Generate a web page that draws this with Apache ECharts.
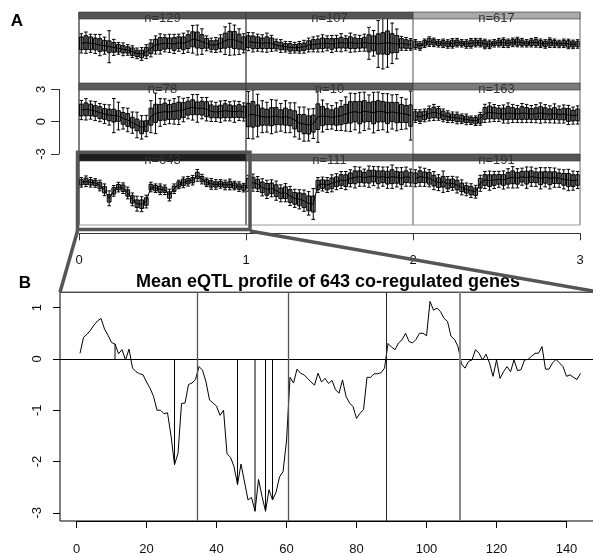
<!DOCTYPE html>
<html><head><meta charset="utf-8">
<script src="https://cdn.jsdelivr.net/npm/echarts@6/dist/echarts.min.js"></script>
<style>html,body{margin:0;padding:0;background:#fff}#c{width:593px;height:557px}</style>
</head><body><div id="c"></div>
<script>
// ---------- DATA ----------
// Panel B: mean eQTL profile (marker index 1..144)
const meanProfile = [0.11,0.42,0.48,0.56,0.66,0.74,0.79,0.58,0.46,0.32,0.29,0.1,0.18,-0.02,0.19,-0.18,-0.25,-0.29,-0.31,-0.45,
-0.57,-0.73,-1.0,-1.0,-1.07,-1.05,-1.5,-2.06,-1.84,-0.87,-0.86,-0.5,-0.47,-0.4,-0.15,-0.22,-0.45,-0.8,-0.86,-0.92,
-1.1,-1.0,-1.85,-1.92,-2.1,-2.45,-2.05,-2.4,-2.75,-2.7,-2.97,-2.35,-2.68,-2.97,-2.55,-2.75,-2.6,-2.3,-2.2,-1.6,
-0.36,-0.47,-0.2,-0.28,-0.31,-0.38,-0.45,-0.51,-0.28,-0.45,-0.38,-0.48,-0.42,-0.6,-0.67,-0.41,-0.73,-0.86,-0.93,-1.16,
-1.06,-0.99,-0.36,-0.36,-0.29,-0.29,-0.27,-0.18,0.3,0.23,0.18,0.31,0.37,0.5,0.34,0.31,0.38,0.5,0.5,0.45,
1.12,0.95,0.99,0.92,0.79,0.73,0.44,0.38,0.24,-0.1,-0.18,-0.05,-0.02,0.18,0.11,-0.02,0.09,-0.08,-0.34,-0.02,
-0.38,-0.25,-0.15,-0.25,-0.02,-0.23,-0.21,-0.02,-0.01,0.05,0.11,0.11,0.24,-0.2,-0.2,-0.08,-0.01,-0.08,-0.15,-0.34,
-0.31,-0.36,-0.4,-0.28];
const sigMarkers = [11, 28, 46, 51, 54, 56];
const chrBounds = [34.5, 60.5, 88.5, 109.5];
const bXTicks = [0, 20, 40, 60, 80, 100, 120, 140];
const bYTicks = [-3, -2, -1, 0, 1];
const titleB = 'Mean eQTL profile of 643 co-regulated genes';

// Panel A: cluster profiles (36 positions per panel): mean, box half-height, whisker half-length
const panelLabels = ['n=129','n=107','n=617','n=78','n=10','n=163','n=643','n=111','n=191'];
const mean_n129 = [0.72,0.78,0.72,0.66,0.56,0.5,0.4,0.34,0.25,0.16,0.1,-0.06,-0.22,-0.28,-0.06,0.25,0.56,0.66,0.72,0.72,0.66,0.78,0.72,0.88,1.1,1.03,0.88,0.72,0.56,0.56,0.72,0.97,1.1,1.03,0.88,0.72];
const box_n129  = [0.6,0.65,0.6,0.55,0.6,0.5,0.55,0.45,0.35,0.35,0.3,0.35,0.3,0.35,0.4,0.5,0.55,0.6,0.55,0.5,0.6,0.55,0.6,0.65,0.7,0.75,0.65,0.45,0.4,0.45,0.5,0.7,0.75,0.8,0.7,0.6];
const wh_n129   = [0.9,1.0,0.85,0.9,1.0,0.8,1.5,0.75,0.55,0.6,0.5,0.55,0.5,0.6,0.65,0.8,0.85,0.95,0.8,0.85,0.9,0.8,0.95,1.0,1.3,1.4,1.2,0.7,0.65,0.7,0.8,1.3,1.5,1.4,1.2,0.9];
const mean_n107 = [0.88,0.81,0.78,0.72,0.78,0.72,0.56,0.47,0.4,0.34,0.31,0.34,0.4,0.56,0.62,0.66,0.72,0.72,0.66,0.72,0.78,0.72,0.78,0.72,0.72,0.78,0.72,0.72,0.66,0.72,0.78,0.72,0.66,0.72,0.66,0.62];
const box_n107  = [0.55,0.6,0.55,0.5,0.55,0.5,0.35,0.35,0.3,0.35,0.3,0.35,0.35,0.4,0.45,0.45,0.5,0.45,0.5,0.45,0.5,0.45,0.55,0.5,0.45,0.5,0.8,0.7,0.95,1.0,1.1,0.9,0.8,0.45,0.4,0.4];
const wh_n107   = [0.85,0.9,0.8,0.8,0.9,0.75,0.55,0.6,0.5,0.55,0.5,0.55,0.6,0.65,0.7,0.75,0.8,0.7,0.8,0.75,0.85,0.7,0.9,0.8,0.75,0.8,1.5,1.2,2.2,2.4,2.3,1.9,1.4,0.65,0.6,0.55];
const mean_n617 = [0.62,0.47,0.72,0.88,0.81,0.72,0.72,0.66,0.72,0.78,0.72,0.66,0.72,0.78,0.78,0.66,0.62,0.72,0.78,0.78,0.72,0.81,0.84,0.78,0.72,0.78,0.81,0.72,0.66,0.78,0.72,0.66,0.72,0.66,0.62,0.66];
const box_n617  = [0.3,0.25,0.25,0.3,0.25,0.2,0.25,0.25,0.3,0.25,0.2,0.25,0.3,0.25,0.25,0.3,0.25,0.2,0.25,0.3,0.25,0.25,0.3,0.25,0.2,0.25,0.3,0.25,0.25,0.3,0.25,0.2,0.25,0.3,0.25,0.25];
const wh_n617   = [0.45,0.4,0.4,0.45,0.4,0.35,0.4,0.4,0.45,0.4,0.35,0.4,0.45,0.4,0.4,0.45,0.4,0.35,0.4,0.45,0.4,0.4,0.45,0.4,0.35,0.4,0.45,0.4,0.4,0.45,0.4,0.35,0.4,0.45,0.4,0.4];
const mean_n78  = [1.12,1.19,1.12,1.03,0.88,0.75,0.66,0.6,0.56,0.34,0.19,-0.06,-0.28,-0.5,-0.38,0.5,0.81,0.9,0.97,0.94,1.0,1.06,1.12,1.3,1.38,1.28,1.3,1.2,1.0,0.94,0.97,1.06,1.0,0.97,1.03,0.94];
const box_n78   = [0.55,0.6,0.55,0.5,0.55,0.5,0.55,0.6,0.5,0.55,0.6,0.5,0.55,0.6,0.5,0.8,0.85,0.75,0.8,0.7,0.75,0.8,0.7,0.65,0.7,0.6,0.65,0.7,0.6,0.55,0.6,0.65,0.6,0.55,0.6,0.55];
const wh_n78    = [0.9,1.0,0.85,0.9,0.85,0.9,0.95,1.6,1.3,1.0,1.1,1.0,1.2,1.1,1.0,1.5,1.9,1.3,1.2,1.1,1.2,1.3,1.1,1.0,1.2,1.3,1.0,1.1,0.95,0.9,1.0,0.95,0.9,1.0,0.9,0.85];
const mean_n10  = [0.66,0.72,0.6,0.5,0.45,0.5,0.55,0.44,0.5,0.4,0.2,-0.1,-0.2,-0.28,-0.15,0.5,0.56,0.5,0.44,0.5,0.6,0.75,0.9,0.97,0.88,1.0,0.94,0.88,1.0,0.97,0.85,0.94,0.88,0.8,0.75,0.6];
const box_n10   = [1.1,1.2,1.0,0.8,0.75,0.85,0.8,0.7,0.8,0.75,0.85,0.8,0.9,0.85,0.8,1.2,0.9,0.75,0.7,0.8,0.85,0.9,1.0,0.95,1.05,1.0,0.9,1.05,1.0,0.95,1.0,0.9,0.95,0.85,0.8,1.0];
const wh_n10    = [2.2,2.3,2.0,1.5,1.4,1.6,1.5,1.3,1.5,1.4,1.6,1.5,1.6,1.5,1.4,2.4,1.5,1.2,1.1,1.3,1.4,1.6,1.8,1.7,1.9,1.8,1.6,1.9,1.8,1.7,1.8,1.6,1.7,1.5,1.4,2.3];
const mean_n163 = [0.56,0.5,0.62,0.8,0.9,0.81,0.62,0.5,0.44,0.38,0.3,0.25,0.16,0.12,0.3,0.81,0.9,0.84,0.8,0.75,0.84,0.8,0.75,0.84,0.8,0.75,0.78,0.84,0.78,0.72,0.8,0.7,0.75,0.66,0.6,0.66];
const box_n163  = [0.4,0.45,0.4,0.45,0.5,0.45,0.4,0.35,0.3,0.35,0.3,0.3,0.25,0.3,0.4,0.55,0.6,0.55,0.5,0.55,0.6,0.55,0.5,0.6,0.55,0.5,0.55,0.6,0.55,0.5,0.55,0.5,0.55,0.6,0.5,0.55];
const wh_n163   = [0.6,0.65,0.6,0.7,0.75,0.65,0.6,0.55,0.5,0.55,0.45,0.5,0.4,0.45,0.6,0.85,0.9,0.8,0.75,0.85,0.95,0.85,0.8,0.9,0.85,0.8,0.85,0.95,0.85,0.8,0.9,0.8,0.85,0.9,0.8,0.85];
const mean_n643 = [1.0,1.1,1.0,0.94,0.7,0.3,-0.5,0.2,0.55,0.45,0.0,-0.6,-1.0,-1.05,-0.8,0.56,0.45,0.35,0.3,-0.19,0.4,0.8,1.0,1.1,1.2,1.65,1.3,1.0,0.85,0.8,0.85,0.75,0.8,0.7,0.6,0.5];
const box_n643  = [0.25,0.3,0.25,0.25,0.3,0.3,0.35,0.3,0.25,0.3,0.3,0.35,0.35,0.4,0.35,0.25,0.25,0.3,0.25,0.3,0.25,0.25,0.3,0.25,0.25,0.3,0.25,0.25,0.3,0.25,0.25,0.25,0.3,0.25,0.25,0.25];
const wh_n643   = [0.45,0.5,0.45,0.4,0.5,0.55,0.7,0.5,0.45,0.5,0.55,0.6,0.7,0.7,0.6,0.45,0.4,0.5,0.45,0.55,0.45,0.4,0.5,0.45,0.45,0.55,0.45,0.4,0.5,0.45,0.4,0.45,0.5,0.4,0.45,0.4];
const mean_n111 = [0.91,0.97,0.84,0.53,0.34,0.44,0.22,-0.03,0.03,-0.28,-0.5,-0.59,-0.72,-0.97,-1.03,0.75,0.84,0.75,0.91,1.06,1.22,1.16,1.38,1.47,1.53,1.44,1.53,1.59,1.47,1.53,1.44,1.53,1.47,1.38,1.53,1.44];
const box_n111  = [0.45,0.5,0.45,0.5,0.55,0.5,0.55,0.5,0.55,0.6,0.55,0.6,0.65,0.7,0.75,0.45,0.4,0.45,0.5,0.45,0.5,0.55,0.5,0.6,0.55,0.5,0.6,0.55,0.6,0.55,0.6,0.65,0.55,0.6,0.55,0.5];
const wh_n111   = [0.75,0.8,0.7,0.8,0.85,0.8,0.9,0.8,0.85,0.9,0.85,0.9,1.0,1.1,1.45,0.7,0.65,0.7,0.8,0.75,0.8,0.85,0.8,1.0,0.9,0.8,1.0,0.9,1.0,0.9,1.0,1.1,0.9,1.0,0.9,0.8];
const mean_n191 = [1.38,1.53,1.47,1.38,1.16,0.97,1.06,0.84,0.91,0.75,0.53,0.34,0.22,0.12,0.91,1.22,1.16,1.22,1.28,1.22,1.38,1.47,1.38,1.53,1.44,1.53,1.47,1.38,1.47,1.38,1.44,1.38,1.28,1.22,1.16,1.22];
const box_n191  = [0.5,0.55,0.5,0.55,0.5,0.45,0.5,0.45,0.4,0.45,0.4,0.35,0.4,0.35,0.45,0.5,0.55,0.5,0.45,0.5,0.55,0.6,0.55,0.5,0.6,0.55,0.5,0.6,0.55,0.6,0.55,0.5,0.55,0.6,0.55,0.5];
const wh_n191   = [0.8,0.9,0.85,0.8,0.85,0.75,1.0,0.7,0.65,0.75,0.7,0.6,0.65,0.6,0.75,0.8,0.9,0.8,0.75,0.85,0.9,1.0,0.9,0.8,1.0,0.9,0.85,1.0,0.9,1.0,0.9,0.85,0.9,1.0,0.9,0.8];
const aXTicks = [0, 1, 2, 3];
const aYTicks = [-3, 0, 3];

const panelMeans = [mean_n129, mean_n107, mean_n617, mean_n78, mean_n10, mean_n163, mean_n643, mean_n111, mean_n191];
const panelBoxes = [box_n129, box_n107, box_n617, box_n78, box_n10, box_n163, box_n643, box_n111, box_n191];
const panelWhisk = [wh_n129, wh_n107, wh_n617, wh_n78, wh_n10, wh_n163, wh_n643, wh_n111, wh_n191];

// ---------- STYLE / LAYOUT ----------
const FONT = 'Liberation Sans, Arial, sans-serif';
const stripColors = ['#555','#555','#aaa','#5a5a5a','#5a5a5a','#7a7a7a','#1e1e1e','#666','#555'];
const boundStyle = [{color:'#555',width:1.3},{color:'#555',width:1.3},{color:'#222',width:1},{color:'#888',width:2}];
const PX0 = 79, PW = 167, PY0 = 12, RH = 71, SH = 7, PH = 64;

const chart = echarts.init(document.getElementById('c'));
const grids = [], xAxes = [], yAxes = [], series = [];

function renderBox(params, api) {
  const k = api.value(0), m = api.value(1), b = api.value(2), w = api.value(3);
  const t = api.coord([k, m + w]), d = api.coord([k, m - w]);
  const bt = api.coord([k, m + b]), bb = api.coord([k, m - b]);
  const x = t[0], hw = 1.9, cap = 1.8;
  const ls = {stroke:'#000', lineWidth:1};
  return {type:'group', children:[
    {type:'rect', shape:{x:x-hw, y:bt[1], width:2*hw, height:bb[1]-bt[1]}, style:{fill:'#8a8a8a', stroke:'#000', lineWidth:1}},
    {type:'line', shape:{x1:x, y1:t[1], x2:x, y2:d[1]}, style:ls},
    {type:'line', shape:{x1:x-cap, y1:t[1], x2:x+cap, y2:t[1]}, style:ls},
    {type:'line', shape:{x1:x-cap, y1:d[1], x2:x+cap, y2:d[1]}, style:ls}
  ]};
}

// A panels
for (let p = 0; p < 9; p++) {
  const r = Math.floor(p / 3), c = p % 3;
  grids.push({left: PX0 + c*PW, top: PY0 + r*RH + SH, width: PW, height: PH, outerBoundsMode:'none'});
  xAxes.push({gridIndex: p, type:'value', min:0, max:36, show:false});
  yAxes.push({gridIndex: p, type:'value', min:-3, max:3, show:false});
  const data = panelMeans[p].map((m, k) => [k + 0.5, m, panelBoxes[p][k], panelWhisk[p][k]]);
  series.push({type:'custom', xAxisIndex:p, yAxisIndex:p, renderItem: renderBox, data: data, clip:false, silent:true});
  series.push({type:'line', xAxisIndex:p, yAxisIndex:p, data: panelMeans[p].map((m, k) => [k + 0.5, m]),
    symbol:'none', lineStyle:{color:'#000', width:1}, silent:true, z:3});
}
// A x axis (index 9)
grids.push({left: PX0, right: 593 - (PX0 + 3*PW), top: 150, bottom: 557 - 233.3, outerBoundsMode:'none'});
xAxes.push({gridIndex:9, type:'value', min:aXTicks[0], max:aXTicks[aXTicks.length-1], interval:1,
  axisLine:{show:true, lineStyle:{color:'#333', width:1}}, axisTick:{show:true, length:7, lineStyle:{color:'#333'}},
  splitLine:{show:false}, axisLabel:{margin:21, color:'#111', fontSize:13, fontFamily:FONT}});
yAxes.push({gridIndex:9, type:'value', show:false});
// A y axis (index 10)
grids.push({left: 59, width: 100, top: 89.3, bottom: 557 - 154, outerBoundsMode:'none'});
xAxes.push({gridIndex:10, type:'value', show:false});
yAxes.push({gridIndex:10, type:'value', min:aYTicks[0], max:aYTicks[aYTicks.length-1], interval:3,
  axisLine:{show:true, lineStyle:{color:'#333', width:1}}, axisTick:{show:true, length:8, lineStyle:{color:'#333'}},
  splitLine:{show:false}, axisLabel:{rotate:90, margin:11, color:'#111', fontSize:13, fontFamily:FONT}});

// B data grid (index 11)
grids.push({left:60, width:540.5, top:292.2, bottom:36, show:true, borderColor:'#000', borderWidth:1,
  backgroundColor:'transparent', outerBoundsMode:'none'});
xAxes.push({gridIndex:11, type:'value', min:-4.72, max:149.71, show:false});
yAxes.push({gridIndex:11, type:'value', min:-3.16, max:1.30, show:false});
// B x ticks (index 12)
grids.push({left:76.5, width:490, top:292.2, bottom:36, outerBoundsMode:'none'});
xAxes.push({gridIndex:12, type:'value', min:bXTicks[0], max:bXTicks[bXTicks.length-1], interval:20,
  axisLine:{show:true, lineStyle:{color:'#000'}}, axisTick:{show:true, length:7, lineStyle:{color:'#000'}},
  splitLine:{show:false}, axisLabel:{margin:22, color:'#111', fontSize:13, fontFamily:FONT}});
yAxes.push({gridIndex:12, type:'value', show:false});
// B y ticks (index 13)
grids.push({left:60, width:100, top:307.6, bottom:557-512.8, outerBoundsMode:'none'});
xAxes.push({gridIndex:13, type:'value', show:false});
yAxes.push({gridIndex:13, type:'value', min:bYTicks[0], max:bYTicks[bYTicks.length-1], interval:1,
  axisLine:{show:false}, axisTick:{show:true, length:7, lineStyle:{color:'#000'}},
  splitLine:{show:false}, axisLabel:{rotate:90, margin:16, color:'#111', fontSize:13, fontFamily:FONT}});

// B series
series.push({type:'line', xAxisIndex:11, yAxisIndex:11, data: meanProfile.map((v,i)=>[i+1, v]),
  showSymbol:false, symbol:'none', lineStyle:{color:'#000', width:1}, silent:true, z:3,
  markLine:{symbol:['none','none'], silent:true, label:{show:false},
    data:[{yAxis:0, lineStyle:{color:'#000', width:1, type:'solid'}}].concat(
      chrBounds.map((b,i)=>({xAxis:b, lineStyle:{color:boundStyle[i].color, width:boundStyle[i].width, type:'solid'}})))}});
series.push({type:'bar', xAxisIndex:11, yAxisIndex:11, barWidth:1, silent:true,
  data: sigMarkers.map(i=>[i, meanProfile[i-1]]), itemStyle:{color:'#000'}});

// Graphics: strips, labels, frame, highlight, connectors, titles
const gfx = [];
for (let p = 0; p < 9; p++) {
  const r = Math.floor(p / 3), c = p % 3;
  const x = PX0 + c*PW, y = PY0 + r*RH;
  gfx.push({type:'rect', shape:{x:x, y:y, width:PW, height:SH}, style:{fill:stripColors[p], stroke:'#333', lineWidth:0.6}, z:10});
  gfx.push({type:'text', x:x + PW/2, y:y + 6.5, style:{text:panelLabels[p], fill:'#333', font:'13px ' + FONT, align:'center', verticalAlign:'middle'}, z:11});
}
const vlines = [[PX0,'#000'],[PX0+PW,'#000'],[PX0+2*PW,'#555'],[PX0+3*PW,'#666']];
vlines.forEach(v => gfx.push({type:'line', shape:{x1:v[0], y1:PY0, x2:v[0], y2:PY0+3*RH}, style:{stroke:v[1], lineWidth:1}, z:9}));
gfx.push({type:'line', shape:{x1:PX0, y1:PY0+3*RH, x2:PX0+3*PW, y2:PY0+3*RH}, style:{stroke:'#999', lineWidth:1}, z:9});
gfx.push({type:'rect', shape:{x:77.5, y:152.3, width:172.5, height:77.2}, style:{fill:'none', stroke:'#555', lineWidth:3.5}, z:12});
gfx.push({type:'line', shape:{x1:77.5, y1:231, x2:60, y2:292.2}, style:{stroke:'#555', lineWidth:3.5}, z:12});
gfx.push({type:'line', shape:{x1:250, y1:231, x2:600, y2:292.2}, style:{stroke:'#555', lineWidth:3.5}, z:12});
gfx.push({type:'text', x:17, y:21, style:{text:'A', fill:'#000', font:'bold 17px ' + FONT, align:'center', verticalAlign:'middle'}, z:12});
gfx.push({type:'text', x:25, y:283, style:{text:'B', fill:'#000', font:'bold 17px ' + FONT, align:'center', verticalAlign:'middle'}, z:12});
gfx.push({type:'text', x:328, y:282, style:{text:titleB, fill:'#000', font:'bold 18px ' + FONT, align:'center', verticalAlign:'middle'}, z:11});

chart.setOption({
  animation:false,
  backgroundColor:'#fff',
  grid: grids, xAxis: xAxes, yAxis: yAxes, series: series, graphic: gfx
});
</script>
</body></html>
